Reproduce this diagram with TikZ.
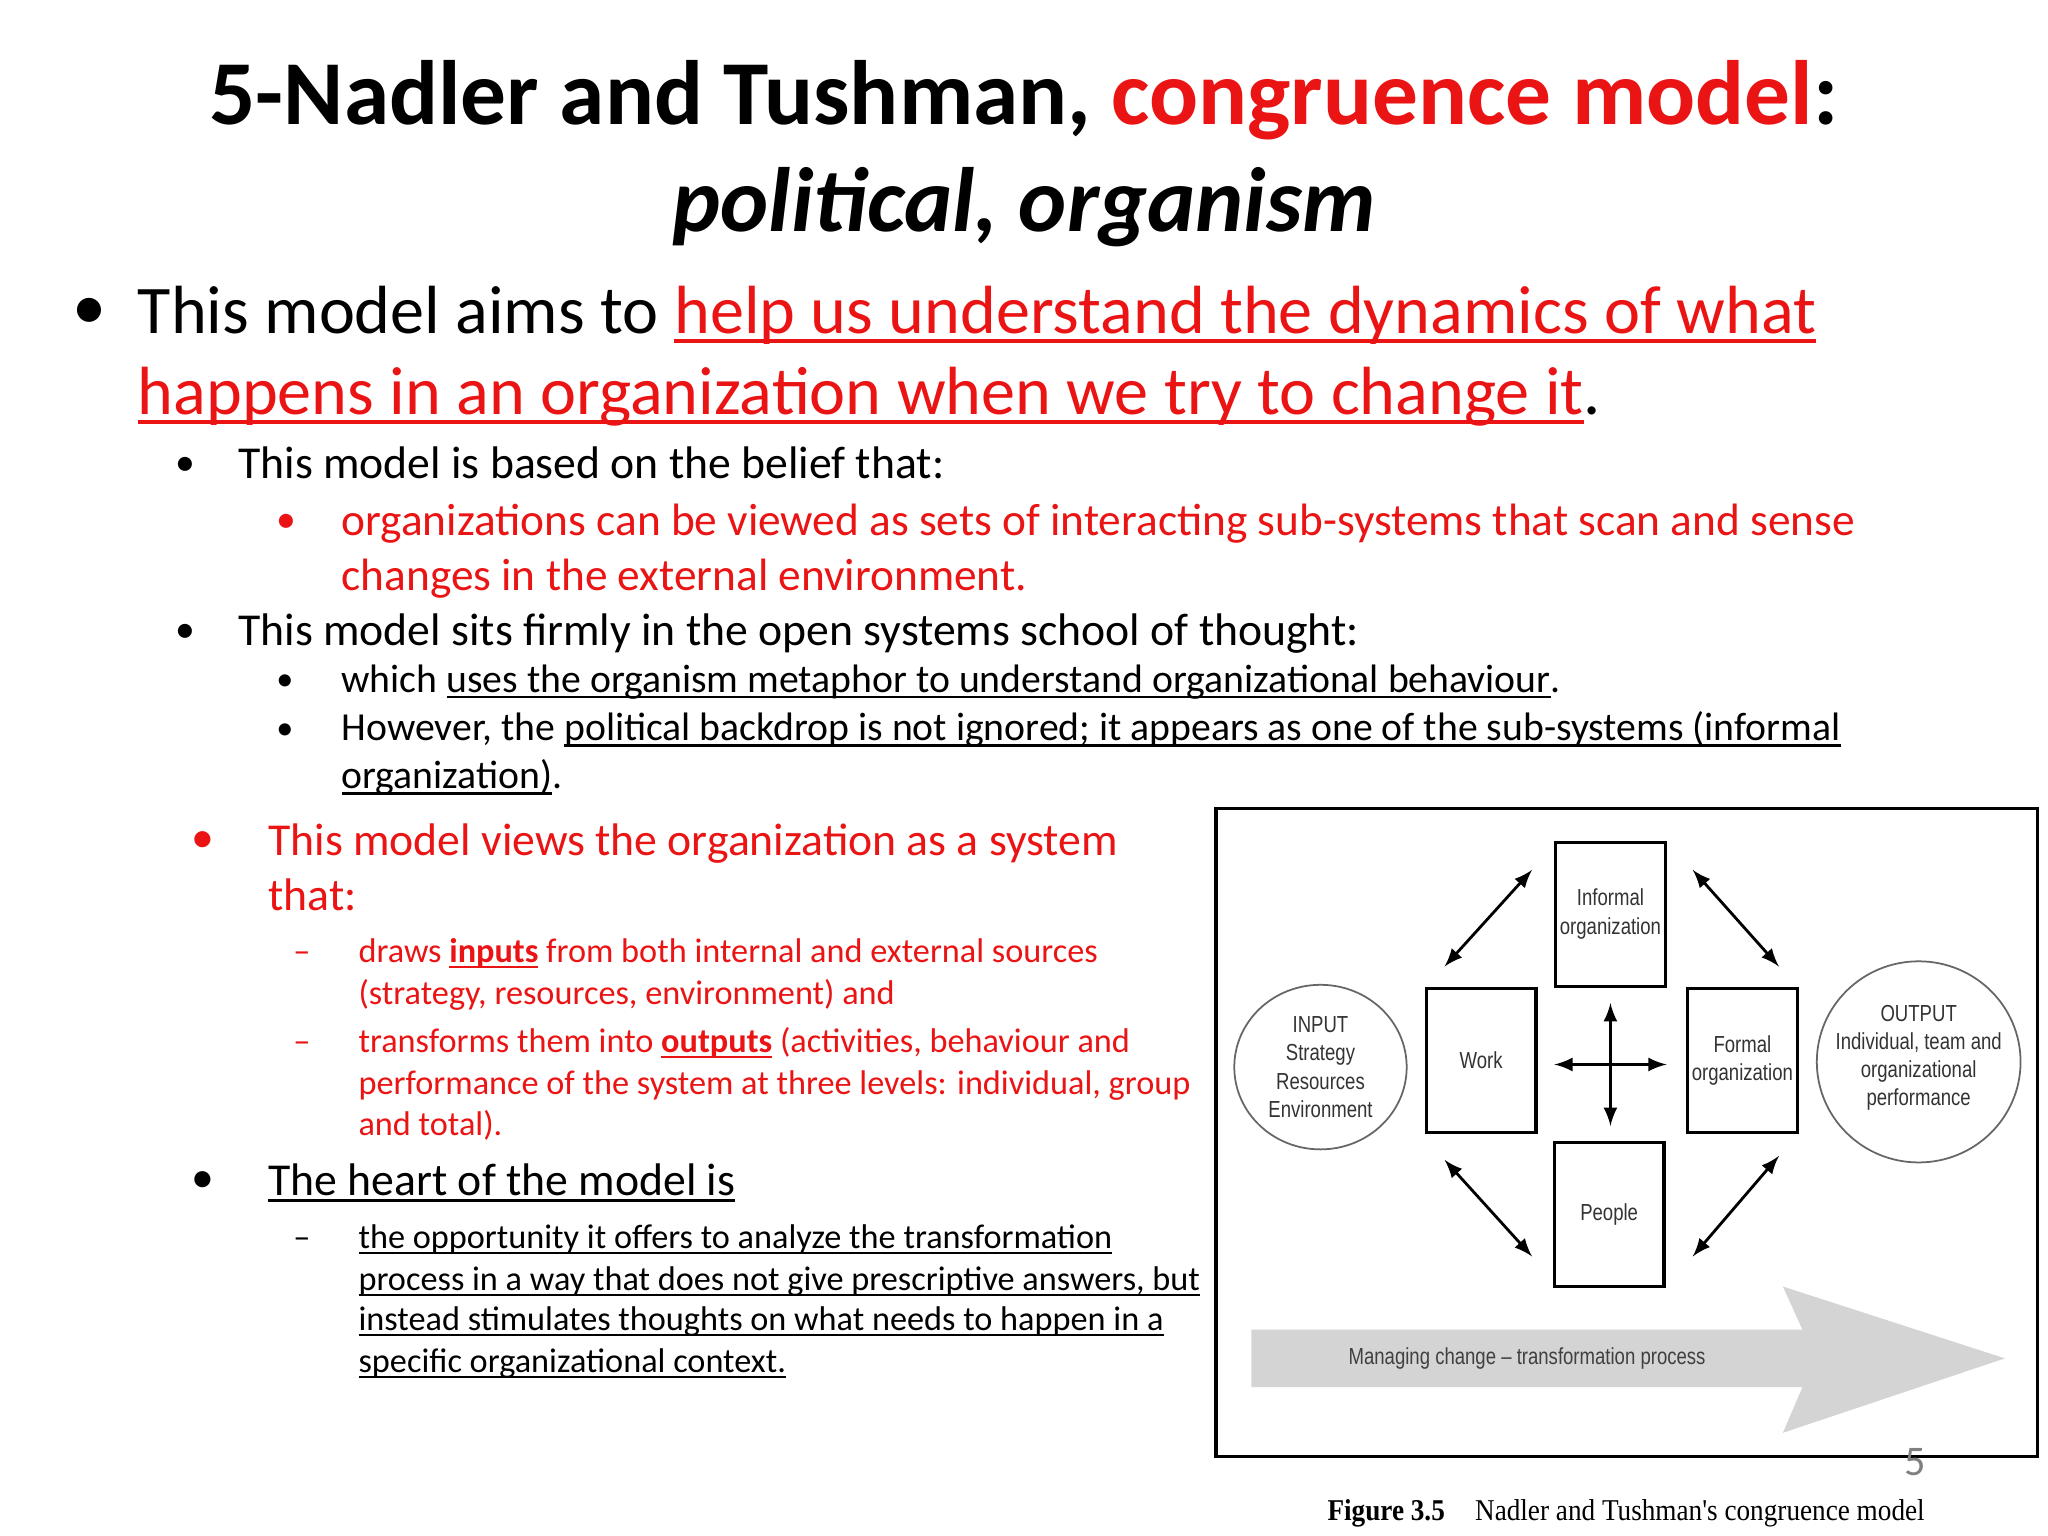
\documentclass[tikz,border=0pt]{standalone}
\usepackage{fontspec}
\usetikzlibrary{shapes.geometric}
\setmainfont{Carlito}
\newfontfamily\arialf[FakeStretch=0.8]{Liberation Sans}
\newfontfamily\serff[FakeStretch=0.9]{Liberation Serif}
\definecolor{rd}{RGB}{235,20,20}
\definecolor{gr}{RGB}{212,212,212}
\newcommand\myul[1]{\setbox0=\hbox{#1}\rlap{\vrule height -0.09em depth 0.15em width \wd0}\box0}
\begin{document}
\begin{tikzpicture}[x=0.013061cm,y=-0.013061cm,
  ln/.style={anchor=base west,inner sep=0pt},
  bx/.style={draw,line width=0.9pt,minimum width=84*0.013061cm,minimum height=110*0.013061cm,inner sep=0pt,align=center,font=\arialf\fontsize{6.6}{8.2}\selectfont,text=black!80},
  cir/.style={inner sep=0pt,align=center,font=\arialf\fontsize{6.6}{8}\selectfont,text=black!80},
  dbl/.style={<->,>=latex,line width=0.8pt}]
\useasboundingbox (0,0) rectangle (1568,1176);
\fill[white] (0,0) rectangle (1568,1176);
% title
\node[anchor=base,inner sep=0pt,font=\bfseries\fontsize{26}{30}\selectfont] (t1) at (784,95) {5-Nadler and Tushman, \textcolor{rd}{congruence model}:};
\node[anchor=base,inner sep=0pt,font=\bfseries\itshape\fontsize{26}{30}\selectfont] (t2) at (784,177) {political, organism};
% bullets
\def\A{\fontsize{19.4}{24}\selectfont}
\def\B{\fontsize{13}{16}\selectfont}
\def\C{\fontsize{12.9}{16}\selectfont}
\def\D{\fontsize{11.3}{14}\selectfont}
\def\E{\fontsize{9.75}{12}\selectfont}
\node[ln,font=\A] (b1) at (55,252) {•};
\node[ln,font=\A] (l1) at (105,255) {This model aims to \textcolor{rd}{\myul{help us understand the dynamics of what}}};
\node[ln,font=\A] (l2) at (105,317) {\textcolor{rd}{\myul{happens in an organization when we try to change it}}.};
\node[ln,font=\D] (b2) at (134,364) {•};
\node[ln,font=\B] (l3) at (182,366) {This model is based on the belief that:};
\node[ln,font=\D,text=rd] (b3) at (211,408) {•};
\node[ln,font=\C,text=rd] (l4) at (261,410) {organizations can be viewed as sets of interacting sub-systems that scan and sense};
\node[ln,font=\C,text=rd] (l5) at (261,452) {changes in the external environment.};
\node[ln,font=\D] (b4) at (134,492) {•};
\node[ln,font=\B] (l6) at (182,494) {This model sits firmly in the open systems school of thought:};
\node[ln,font=\E] (b5) at (211,529) {•};
\node[ln,font=\D] (l7) at (261,530) {which \myul{uses the organism metaphor to understand organizational behaviour}.};
\node[ln,font=\E] (b6) at (211,566) {•};
\node[ln,font=\D] (l8) at (261,567) {However, the \myul{political backdrop is not ignored; it appears as one of the sub-systems (informal}};
\node[ln,font=\D] (l9) at (261,604) {\myul{organization)}.};
\node[ln,font=\B,text=rd] (b7) at (146,653) {•};
\node[ln,font=\B,text=rd] (l10) at (205,655) {This model views the organization as a system};
\node[ln,font=\B,text=rd] (l11) at (205,697) {that:};
\node[ln,font=\E,text=rd] (d1) at (224,737) {–};
\node[ln,font=\E,text=rd] (l12) at (274,737) {draws \textbf{\myul{inputs}} from both internal and external sources};
\node[ln,font=\E,text=rd] (l13) at (274,769) {(strategy, resources, environment) and};
\node[ln,font=\E,text=rd] (d2) at (224,806) {–};
\node[ln,font=\E,text=rd] (l14) at (274,806) {transforms them into \textbf{\myul{outputs}} (activities, behaviour and};
\node[ln,font=\E,text=rd] (l15) at (274,838) {performance of the system at three levels: individual, group};
\node[ln,font=\E,text=rd] (l16) at (274,869) {and total).};
\node[ln,font=\B] (b8) at (146,913) {•};
\node[ln,font=\B] (l17) at (205,915) {\myul{The heart of the model is}};
\node[ln,font=\E] (d3) at (224,956) {–};
\node[ln,font=\E] (l18) at (274,956) {\myul{the opportunity it offers to analyze the transformation}};
\node[ln,font=\E] (l19) at (274,988) {\myul{process in a way that does not give prescriptive answers, but}};
\node[ln,font=\E] (l20) at (274,1019) {\myul{instead stimulates thoughts on what needs to happen in a}};
\node[ln,font=\E] (l21) at (274,1051) {\myul{specific organizational context.}};
% diagram
\draw[line width=1pt] (931,619) rectangle (1560,1115);
\fill[gr] (958,1018) -- (1380,1018) -- (1365,985) -- (1535,1040) -- (1365,1097) -- (1380,1062) -- (958,1062) -- cycle;
\node[anchor=west,inner sep=0pt,font=\arialf\fontsize{6.6}{8}\selectfont,text=black!75] (mc) at (1032,1040) {Managing change – transformation process};
\node[bx] (inf) at (1233,700) {Informal\\organization};
\node[bx] (wrk) at (1134,812) {Work};
\node[bx] (frm) at (1334,812) {Formal\\organization};
\node[bx] (ppl) at (1232,930) {People};
\node[cir] (inp) at (1011,817) {INPUT\\Strategy\\Resources\\Environment};
\draw[black!60,line width=0.5pt] (inp.center) ellipse [x radius=66, y radius=63];
\node[cir] (out) at (1469,810) {OUTPUT\\Individual, team and\\organizational\\performance};
\draw[black!60,line width=0.5pt] (1469,813) ellipse [x radius=78, y radius=77];
\draw[dbl] (1233,768) -- (1233,862);
\draw[dbl] (1190,815) -- (1276,815);
\draw[dbl] (1106,740) -- (1173,666);
\draw[dbl] (1296,666) -- (1362,740);
\draw[dbl] (1106,888) -- (1173,962);
\draw[dbl] (1296,962) -- (1362,885);
\node[anchor=base,inner sep=0pt,text=gray,font=\fontsize{12}{14}\selectfont] (pg) at (1466,1130) {5};
\node[anchor=base,inner sep=0pt,font=\serff\fontsize{8.6}{10}\selectfont] (cap) at (1245,1164) {\textbf{Figure 3.5}\quad Nadler and Tushman's congruence model};
\end{tikzpicture}
\end{document}
